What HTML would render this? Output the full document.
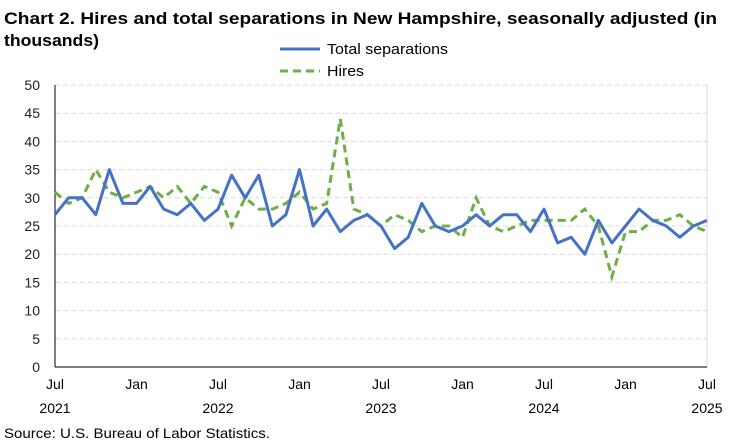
<!DOCTYPE html><html><head><style>body{margin:0;background:#fff}svg{display:block;font-family:"Liberation Sans",Arial,sans-serif}</style></head><body>
<svg width="750" height="445" id="s" xmlns="http://www.w3.org/2000/svg">
<text x="4" y="24" font-size="17" font-weight="bold" fill="#000" textLength="713" lengthAdjust="spacingAndGlyphs">Chart 2. Hires and total separations in New Hampshire, seasonally adjusted (in</text>
<text x="4" y="46" font-size="17" font-weight="bold" fill="#000" textLength="95" lengthAdjust="spacingAndGlyphs">thousands)</text>
<line x1="280" y1="49" x2="320" y2="49" stroke="#4472C4" stroke-width="3"/>
<text x="327" y="54" font-size="15" textLength="121" lengthAdjust="spacingAndGlyphs">Total separations</text>
<line x1="280" y1="71" x2="320" y2="71" stroke="#70AD47" stroke-width="3" stroke-dasharray="8,5"/>
<text x="327" y="76" font-size="15" textLength="37" lengthAdjust="spacingAndGlyphs">Hires</text>
<g id="g"></g>
<text x="4" y="438" font-size="14" textLength="266" lengthAdjust="spacingAndGlyphs">Source: U.S. Bureau of Labor Statistics.</text>
</svg>
<script>
const S=[27,30,30,27,35,29,29,32,28,27,29,26,28,34,30,34,25,27,35,25,28,24,26,27,25,21,23,29,25,24,25,27,25,27,27,24,28,22,23,20,26,22,25,28,26,25,23,25,26];
const H=[31,29,30,35,31,30,31,32,30,32,29,32,31,25,30,28,28,29,31,28,29,44,28,27,25,27,26,24,25,25,23,30,25,24,25,26,26,26,26,28,25,16,24,24,26,26,27,25,24];
const x0=55,x1=707,dx=(x1-x0)/48,y=v=>367-v*5.64;let o='';
for(let v=5;v<=50;v+=5)o+=`<line x1="${x0}" x2="${x1}" y1="${y(v)}" y2="${y(v)}" stroke="#d9d9d9" stroke-dasharray="5,3"/>`;
o+=`<line x1="${x1}" x2="${x1}" y1="${y(50)}" y2="367" stroke="#d9d9d9"/>`;
for(let v=0;v<=50;v+=5)o+=`<text x="40" y="${y(v)+5}" font-size="14" text-anchor="end" fill="#222">${v}</text>`;
o+=`<line x1="${x0}" x2="${x0}" y1="${y(50)}" y2="367" stroke="#000"/><line x1="${x0}" x2="${x1}" y1="367" y2="367" stroke="#000"/>`;
const L=[['Jul','2021'],['Jan',''],['Jul','2022'],['Jan',''],['Jul','2023'],['Jan',''],['Jul','2024'],['Jan',''],['Jul','2025']];
L.forEach((l,i)=>{const x=x0+i*6*dx;o+=`<text x="${x}" y="389" font-size="14" text-anchor="middle">${l[0]}</text>`;if(l[1])o+=`<text x="${x}" y="413" font-size="14" text-anchor="middle">${l[1]}</text>`;});
const p=a=>a.map((v,i)=>(x0+i*dx).toFixed(1)+','+y(v).toFixed(1)).join(' ');
o+=`<polyline points="${p(H)}" fill="none" stroke="#70AD47" stroke-width="3" stroke-dasharray="8,5"/>`;
o+=`<polyline points="${p(S)}" fill="none" stroke="#4472C4" stroke-width="3" stroke-linejoin="round"/>`;
document.getElementById('g').innerHTML=o;
</script></body></html>
